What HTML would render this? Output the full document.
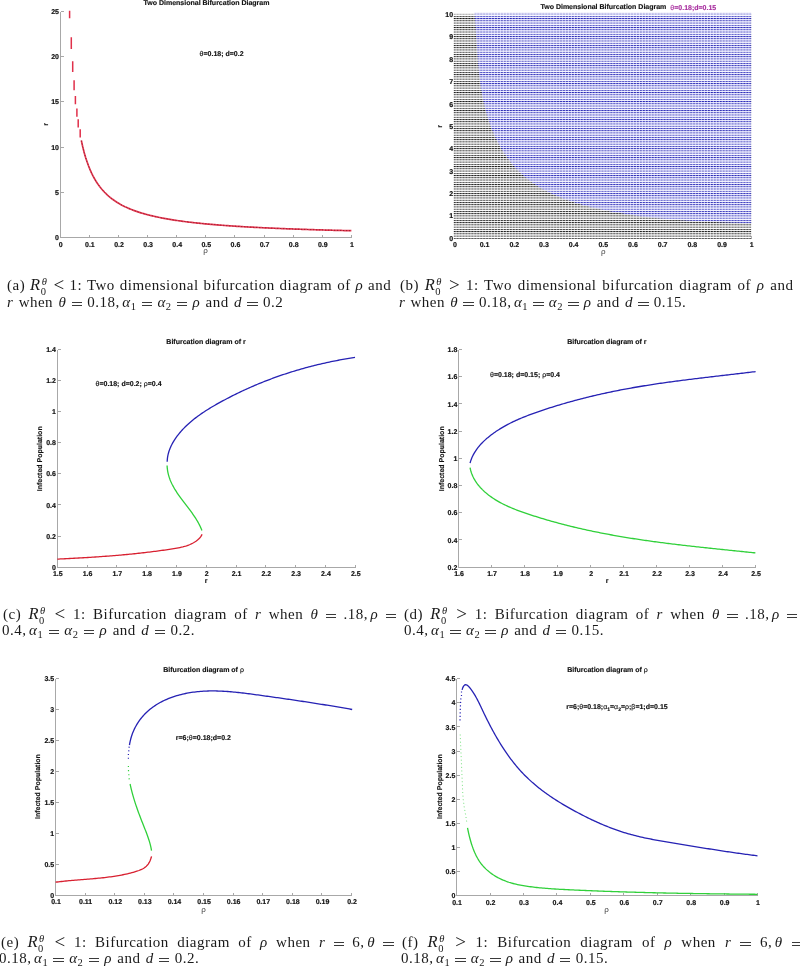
<!DOCTYPE html>
<html><head><meta charset="utf-8"><style>
html,body{margin:0;padding:0;background:#fff;-webkit-font-smoothing:antialiased;}
body{width:800px;height:967px;position:relative;overflow:hidden;}
svg{position:absolute;left:0;top:0;will-change:transform;}
.cl{will-change:transform;}
.tl{font-family:"Liberation Sans",sans-serif;font-weight:bold;font-size:7px;fill:#111;stroke:#111;stroke-width:0.18px;text-rendering:geometricPrecision;}
.tt{font-family:"Liberation Sans",sans-serif;font-weight:bold;font-size:7px;fill:#111;stroke:#111;stroke-width:0.15px;text-rendering:geometricPrecision;}
.al{font-family:"Liberation Sans",sans-serif;font-size:8px;fill:#444;}
.cv{stroke-width:1.3;stroke-linejoin:round;}
.g{font-family:"Liberation Sans",sans-serif;font-weight:normal;}
.cl{position:absolute;font-family:"Liberation Serif",serif;font-size:15.0px;line-height:16px;white-space:nowrap;color:#1a1a1a;letter-spacing:0.5px;}
.cl.j{text-align:justify;text-align-last:justify;white-space:normal;}
.cl i{font-style:italic;}
.cl sub{font-size:10.5px;vertical-align:baseline;position:relative;top:3px;}
.sx{display:inline-block;position:relative;width:8px;height:10px;}
.sp{position:absolute;left:1px;top:-6px;font-size:10.5px;}
.sb{position:absolute;left:0px;top:4px;font-size:10.5px;}
.R{font-size:16.5px;}
.lt{font-size:19px;line-height:10px;position:relative;top:0.8px;}
.th{display:inline-block;width:2.5px;}
.eq{display:inline-block;width:10.4px;height:2.3px;border-top:1px solid #3a3a3a;border-bottom:1px solid #3a3a3a;vertical-align:0.9px;}
</style></head><body>
<svg width="800" height="967" viewBox="0 0 800 967">
<path d="M60.5,11.5 L60.5,237.5 L352.0,237.5 M89.5,237.5 L89.5,234.5 M118.5,237.5 L118.5,234.5 M147.5,237.5 L147.5,234.5 M176.5,237.5 L176.5,234.5 M205.5,237.5 L205.5,234.5 M234.5,237.5 L234.5,234.5 M264.5,237.5 L264.5,234.5 M293.5,237.5 L293.5,234.5 M322.5,237.5 L322.5,234.5 M351.5,237.5 L351.5,234.5 M60.5,192.5 L63.5,192.5 M60.5,147.5 L63.5,147.5 M60.5,101.5 L63.5,101.5 M60.5,56.5 L63.5,56.5 M60.5,11.5 L63.5,11.5" fill="none" stroke="#a8a8a8" stroke-width="1" shape-rendering="crispEdges"/>
<text x="60.80" y="246.70" text-anchor="middle" class="tl">0</text>
<text x="89.91" y="246.70" text-anchor="middle" class="tl">0.1</text>
<text x="119.02" y="246.70" text-anchor="middle" class="tl">0.2</text>
<text x="148.13" y="246.70" text-anchor="middle" class="tl">0.3</text>
<text x="177.24" y="246.70" text-anchor="middle" class="tl">0.4</text>
<text x="206.35" y="246.70" text-anchor="middle" class="tl">0.5</text>
<text x="235.46" y="246.70" text-anchor="middle" class="tl">0.6</text>
<text x="264.57" y="246.70" text-anchor="middle" class="tl">0.7</text>
<text x="293.68" y="246.70" text-anchor="middle" class="tl">0.8</text>
<text x="322.79" y="246.70" text-anchor="middle" class="tl">0.9</text>
<text x="351.90" y="246.70" text-anchor="middle" class="tl">1</text>
<text x="59.00" y="240.10" text-anchor="end" class="tl">0</text>
<text x="59.00" y="194.85" text-anchor="end" class="tl">5</text>
<text x="59.00" y="149.60" text-anchor="end" class="tl">10</text>
<text x="59.00" y="104.35" text-anchor="end" class="tl">15</text>
<text x="59.00" y="59.10" text-anchor="end" class="tl">20</text>
<text x="59.00" y="13.85" text-anchor="end" class="tl">25</text>
<path d="M81.33,140.54 L82.78,147.00 L84.23,152.66 L85.68,157.65 L87.14,162.08 L88.59,166.05 L90.04,169.62 L91.49,172.86 L92.94,175.80 L94.40,178.48 L95.85,180.94 L97.30,183.20 L98.75,185.29 L100.20,187.22 L101.66,189.02 L103.11,190.69 L104.56,192.25 L106.01,193.71 L107.46,195.08 L108.92,196.36 L110.37,197.57 L111.82,198.71 L113.27,199.79 L114.72,200.81 L116.18,201.78 L117.63,202.69 L119.08,203.56 L120.53,204.39 L121.98,205.18 L123.44,205.93 L124.89,206.65 L126.34,207.33 L127.79,207.99 L129.24,208.62 L130.70,209.22 L132.15,209.80 L133.60,210.35 L135.05,210.88 L136.50,211.39 L137.96,211.89 L139.41,212.36 L140.86,212.82 L142.31,213.26 L143.76,213.68 L145.22,214.09 L146.67,214.49 L148.12,214.88 L149.57,215.25 L151.02,215.60 L152.48,215.95 L153.93,216.29 L155.38,216.62 L156.83,216.93 L158.28,217.24 L159.74,217.54 L161.19,217.83 L162.64,218.11 L164.09,218.38 L165.54,218.65 L167.00,218.90 L168.45,219.16 L169.90,219.40 L171.35,219.64 L172.80,219.87 L174.26,220.10 L175.71,220.32 L177.16,220.53 L178.61,220.74 L180.06,220.95 L181.52,221.14 L182.97,221.34 L184.42,221.53 L185.87,221.72 L187.32,221.90 L188.78,222.07 L190.23,222.25 L191.68,222.42 L193.13,222.58 L194.58,222.74 L196.04,222.90 L197.49,223.06 L198.94,223.21 L200.39,223.36 L201.84,223.51 L203.30,223.65 L204.75,223.79 L206.20,223.93 L207.65,224.06 L209.10,224.19 L210.56,224.32 L212.01,224.45 L213.46,224.57 L214.91,224.69 L216.36,224.81 L217.82,224.93 L219.27,225.05 L220.72,225.16 L222.17,225.27 L223.62,225.38 L225.08,225.49 L226.53,225.59 L227.98,225.70 L229.43,225.80 L230.88,225.90 L232.34,226.00 L233.79,226.09 L235.24,226.19 L236.69,226.28 L238.14,226.37 L239.60,226.46 L241.05,226.55 L242.50,226.64 L243.95,226.73 L245.40,226.81 L246.86,226.89 L248.31,226.98 L249.76,227.06 L251.21,227.14 L252.66,227.22 L254.12,227.29 L255.57,227.37 L257.02,227.44 L258.47,227.52 L259.92,227.59 L261.38,227.66 L262.83,227.73 L264.28,227.80 L265.73,227.87 L267.18,227.94 L268.64,228.01 L270.09,228.07 L271.54,228.14 L272.99,228.20 L274.44,228.27 L275.90,228.33 L277.35,228.39 L278.80,228.45 L280.25,228.51 L281.70,228.57 L283.16,228.63 L284.61,228.69 L286.06,228.74 L287.51,228.80 L288.96,228.85 L290.42,228.91 L291.87,228.96 L293.32,229.02 L294.77,229.07 L296.22,229.12 L297.68,229.17 L299.13,229.22 L300.58,229.27 L302.03,229.32 L303.48,229.37 L304.94,229.42 L306.39,229.47 L307.84,229.51 L309.29,229.56 L310.74,229.61 L312.20,229.65 L313.65,229.70 L315.10,229.74 L316.55,229.79 L318.00,229.83 L319.46,229.87 L320.91,229.92 L322.36,229.96 L323.81,230.00 L325.26,230.04 L326.72,230.08 L328.17,230.12 L329.62,230.16 L331.07,230.20 L332.52,230.24 L333.98,230.28 L335.43,230.32 L336.88,230.36 L338.33,230.39 L339.78,230.43 L341.24,230.47 L342.69,230.50 L344.14,230.54 L345.59,230.57 L347.04,230.61 L348.50,230.64 L349.95,230.68 L351.40,230.71" fill="none" stroke="#e23a52" stroke-width="1.7"/>
<path d="M81.33,140.54 L82.78,147.00 L84.23,152.66 L85.68,157.65 L87.14,162.08 L88.59,166.05 L90.04,169.62 L91.49,172.86 L92.94,175.80 L94.40,178.48 L95.85,180.94 L97.30,183.20 L98.75,185.29 L100.20,187.22 L101.66,189.02 L103.11,190.69 L104.56,192.25 L106.01,193.71 L107.46,195.08 L108.92,196.36 L110.37,197.57 L111.82,198.71 L113.27,199.79 L114.72,200.81 L116.18,201.78 L117.63,202.69 L119.08,203.56 L120.53,204.39 L121.98,205.18 L123.44,205.93 L124.89,206.65 L126.34,207.33 L127.79,207.99 L129.24,208.62 L130.70,209.22 L132.15,209.80 L133.60,210.35 L135.05,210.88 L136.50,211.39 L137.96,211.89 L139.41,212.36 L140.86,212.82 L142.31,213.26 L143.76,213.68 L145.22,214.09 L146.67,214.49 L148.12,214.88 L149.57,215.25 L151.02,215.60 L152.48,215.95 L153.93,216.29 L155.38,216.62 L156.83,216.93 L158.28,217.24 L159.74,217.54 L161.19,217.83 L162.64,218.11 L164.09,218.38 L165.54,218.65 L167.00,218.90 L168.45,219.16 L169.90,219.40 L171.35,219.64 L172.80,219.87 L174.26,220.10 L175.71,220.32 L177.16,220.53 L178.61,220.74 L180.06,220.95 L181.52,221.14 L182.97,221.34 L184.42,221.53 L185.87,221.72 L187.32,221.90 L188.78,222.07 L190.23,222.25 L191.68,222.42 L193.13,222.58 L194.58,222.74 L196.04,222.90 L197.49,223.06 L198.94,223.21 L200.39,223.36 L201.84,223.51 L203.30,223.65 L204.75,223.79 L206.20,223.93 L207.65,224.06 L209.10,224.19 L210.56,224.32 L212.01,224.45 L213.46,224.57 L214.91,224.69 L216.36,224.81 L217.82,224.93 L219.27,225.05 L220.72,225.16 L222.17,225.27 L223.62,225.38 L225.08,225.49 L226.53,225.59 L227.98,225.70 L229.43,225.80 L230.88,225.90 L232.34,226.00 L233.79,226.09 L235.24,226.19 L236.69,226.28 L238.14,226.37 L239.60,226.46 L241.05,226.55 L242.50,226.64 L243.95,226.73 L245.40,226.81 L246.86,226.89 L248.31,226.98 L249.76,227.06 L251.21,227.14 L252.66,227.22 L254.12,227.29 L255.57,227.37 L257.02,227.44 L258.47,227.52 L259.92,227.59 L261.38,227.66 L262.83,227.73 L264.28,227.80 L265.73,227.87 L267.18,227.94 L268.64,228.01 L270.09,228.07 L271.54,228.14 L272.99,228.20 L274.44,228.27 L275.90,228.33 L277.35,228.39 L278.80,228.45 L280.25,228.51 L281.70,228.57 L283.16,228.63 L284.61,228.69 L286.06,228.74 L287.51,228.80 L288.96,228.85 L290.42,228.91 L291.87,228.96 L293.32,229.02 L294.77,229.07 L296.22,229.12 L297.68,229.17 L299.13,229.22 L300.58,229.27 L302.03,229.32 L303.48,229.37 L304.94,229.42 L306.39,229.47 L307.84,229.51 L309.29,229.56 L310.74,229.61 L312.20,229.65 L313.65,229.70 L315.10,229.74 L316.55,229.79 L318.00,229.83 L319.46,229.87 L320.91,229.92 L322.36,229.96 L323.81,230.00 L325.26,230.04 L326.72,230.08 L328.17,230.12 L329.62,230.16 L331.07,230.20 L332.52,230.24 L333.98,230.28 L335.43,230.32 L336.88,230.36 L338.33,230.39 L339.78,230.43 L341.24,230.47 L342.69,230.50 L344.14,230.54 L345.59,230.57 L347.04,230.61 L348.50,230.64 L349.95,230.68 L351.40,230.71" fill="none" stroke="#8a1020" stroke-width="1.0" stroke-dasharray="1.2 1.8" opacity="0.75"/>
<path d="M69.6,10.8 L69.6,18.2 M71.3,37.3 L71.3,48.9 M72.7,61.3 L72.7,72.1 M74.1,80.3 L74.1,90.3 M75.4,96 L75.4,104.3 M76.9,108.5 L76.9,116.8 M78.2,119.2 L78.2,127.5 M80.2,129.2 L80.2,137.4" stroke="#e0304a" stroke-width="1.5"/>
<text x="206.5" y="5.2" text-anchor="middle" class="tt">Two Dimensional Bifurcation Diagram</text>
<text x="199.6" y="55.9" class="tt"><tspan class="g">θ</tspan>=0.18; d=0.2</text>
<text x="205.5" y="253" text-anchor="middle" class="al">ρ</text>
<text transform="translate(48,124.4) rotate(-90)" text-anchor="middle" class="tt">r</text>
<defs>
<pattern id="pk" patternUnits="userSpaceOnUse" x="453.70" y="13.65" width="2.9570" height="2.2425"><rect width="2.9570" height="2.2425" fill="#ffffff"/><rect x="0" y="0" width="2.9570" height="0.85" fill="#9c9c9c"/><rect x="0" y="0" width="1.8" height="0.85" fill="#101010"/></pattern>
<pattern id="pb" patternUnits="userSpaceOnUse" x="453.70" y="13.65" width="2.9570" height="2.2425"><rect width="2.9570" height="2.2425" fill="#f8f8ff"/><rect x="0" y="0" width="2.9570" height="0.85" fill="#a0a0fc"/><rect x="0" y="0" width="1.8" height="0.85" fill="#2424a8"/></pattern>
</defs>
<path d="M454.5,14.5 L454.5,238.5 L752.0,238.5 M484.5,238.5 L484.5,235.5 M513.5,238.5 L513.5,235.5 M543.5,238.5 L543.5,235.5 M573.5,238.5 L573.5,235.5 M602.5,238.5 L602.5,235.5 M632.5,238.5 L632.5,235.5 M662.5,238.5 L662.5,235.5 M691.5,238.5 L691.5,235.5 M721.5,238.5 L721.5,235.5 M751.5,238.5 L751.5,235.5 M454.5,215.5 L457.5,215.5 M454.5,193.5 L457.5,193.5 M454.5,171.5 L457.5,171.5 M454.5,148.5 L457.5,148.5 M454.5,126.5 L457.5,126.5 M454.5,103.5 L457.5,103.5 M454.5,81.5 L457.5,81.5 M454.5,59.5 L457.5,59.5 M454.5,36.5 L457.5,36.5 M454.5,14.5 L457.5,14.5" fill="none" stroke="#a8a8a8" stroke-width="1" shape-rendering="crispEdges"/>
<text x="454.90" y="247.30" text-anchor="middle" class="tl">0</text>
<text x="484.58" y="247.30" text-anchor="middle" class="tl">0.1</text>
<text x="514.26" y="247.30" text-anchor="middle" class="tl">0.2</text>
<text x="543.94" y="247.30" text-anchor="middle" class="tl">0.3</text>
<text x="573.62" y="247.30" text-anchor="middle" class="tl">0.4</text>
<text x="603.30" y="247.30" text-anchor="middle" class="tl">0.5</text>
<text x="632.98" y="247.30" text-anchor="middle" class="tl">0.6</text>
<text x="662.66" y="247.30" text-anchor="middle" class="tl">0.7</text>
<text x="692.34" y="247.30" text-anchor="middle" class="tl">0.8</text>
<text x="722.02" y="247.30" text-anchor="middle" class="tl">0.9</text>
<text x="751.70" y="247.30" text-anchor="middle" class="tl">1</text>
<text x="453.10" y="240.70" text-anchor="end" class="tl">0</text>
<text x="453.10" y="218.34" text-anchor="end" class="tl">1</text>
<text x="453.10" y="195.98" text-anchor="end" class="tl">2</text>
<text x="453.10" y="173.62" text-anchor="end" class="tl">3</text>
<text x="453.10" y="151.26" text-anchor="end" class="tl">4</text>
<text x="453.10" y="128.90" text-anchor="end" class="tl">5</text>
<text x="453.10" y="106.54" text-anchor="end" class="tl">6</text>
<text x="453.10" y="84.18" text-anchor="end" class="tl">7</text>
<text x="453.10" y="61.82" text-anchor="end" class="tl">8</text>
<text x="453.10" y="39.46" text-anchor="end" class="tl">9</text>
<text x="453.10" y="17.10" text-anchor="end" class="tl">10</text>
<rect x="453.70" y="13.65" width="297.50" height="225.25" fill="url(#pk)"/>
<path d="M474.28,12.65 L474.28,12.02 L474.42,13.43 L474.55,14.85 L474.68,16.27 L474.81,17.70 L474.93,19.14 L475.05,20.58 L475.17,22.03 L475.28,23.48 L475.39,24.94 L475.50,26.40 L475.61,27.88 L475.71,29.35 L475.81,30.83 L475.91,32.32 L476.01,33.81 L476.11,35.30 L476.21,36.80 L476.30,38.30 L476.40,39.81 L476.50,41.32 L476.59,42.83 L476.69,44.35 L476.79,45.87 L476.89,47.39 L476.99,48.92 L477.10,50.45 L477.20,51.98 L477.31,53.51 L477.42,55.05 L477.54,56.58 L477.65,58.12 L477.77,59.66 L477.90,61.20 L478.02,62.74 L478.16,64.28 L478.29,65.83 L478.44,67.37 L478.58,68.91 L478.74,70.46 L478.89,72.00 L479.06,73.54 L479.23,75.09 L479.41,76.63 L479.59,78.17 L479.78,79.71 L479.98,81.25 L480.18,82.79 L480.40,84.32 L480.62,85.86 L480.85,87.39 L481.09,88.92 L481.34,90.44 L481.59,91.97 L481.86,93.49 L482.14,95.01 L482.42,96.53 L482.72,98.04 L483.03,99.55 L483.34,101.05 L483.67,102.55 L484.01,104.05 L484.37,105.54 L484.73,107.03 L485.11,108.52 L485.50,109.99 L485.90,111.47 L486.31,112.94 L486.73,114.40 L487.17,115.86 L487.62,117.31 L488.08,118.76 L488.55,120.20 L489.03,121.63 L489.53,123.06 L490.04,124.47 L490.56,125.89 L491.10,127.29 L491.64,128.69 L492.20,130.08 L492.77,131.47 L493.36,132.84 L493.96,134.21 L494.57,135.57 L495.19,136.92 L495.83,138.26 L496.48,139.60 L497.14,140.92 L497.81,142.23 L498.50,143.54 L499.20,144.84 L499.92,146.12 L500.64,147.40 L501.39,148.67 L502.14,149.92 L502.91,151.17 L503.69,152.40 L504.48,153.63 L505.29,154.84 L506.11,156.04 L506.95,157.23 L507.80,158.41 L508.66,159.58 L509.54,160.73 L510.43,161.87 L511.34,163.00 L512.25,164.12 L513.19,165.22 L514.13,166.32 L515.10,167.39 L516.07,168.46 L517.06,169.51 L518.06,170.55 L519.08,171.57 L520.12,172.58 L521.16,173.58 L522.22,174.56 L523.30,175.52 L524.39,176.48 L525.50,177.41 L526.62,178.33 L527.75,179.24 L528.90,180.13 L530.06,181.00 L531.24,181.87 L532.43,182.71 L533.64,183.54 L534.86,184.36 L536.09,185.16 L537.33,185.95 L538.58,186.72 L539.85,187.48 L541.13,188.23 L542.42,188.96 L543.72,189.68 L545.04,190.39 L546.36,191.09 L547.69,191.77 L549.04,192.44 L550.39,193.09 L551.75,193.74 L553.12,194.37 L554.50,194.99 L555.89,195.60 L557.29,196.20 L558.70,196.78 L560.11,197.36 L561.53,197.92 L562.96,198.47 L564.40,199.01 L565.84,199.55 L567.29,200.07 L568.74,200.58 L570.20,201.08 L571.67,201.57 L573.14,202.05 L574.61,202.52 L576.09,202.99 L577.58,203.44 L579.07,203.88 L580.56,204.32 L582.06,204.75 L583.56,205.16 L585.06,205.57 L586.57,205.98 L588.08,206.37 L589.59,206.76 L591.10,207.13 L592.61,207.50 L594.13,207.87 L595.64,208.22 L597.16,208.57 L598.68,208.92 L600.20,209.25 L601.71,209.58 L603.23,209.91 L604.75,210.22 L606.26,210.53 L607.78,210.84 L609.29,211.14 L610.80,211.43 L612.31,211.72 L613.82,212.00 L615.33,212.28 L616.84,212.56 L618.34,212.82 L619.85,213.08 L621.35,213.34 L622.85,213.59 L624.35,213.84 L625.85,214.08 L627.35,214.32 L628.85,214.55 L630.35,214.78 L631.84,215.00 L633.34,215.22 L634.83,215.44 L636.32,215.65 L637.81,215.85 L639.31,216.05 L640.80,216.25 L642.29,216.44 L643.78,216.63 L645.26,216.81 L646.75,216.99 L648.24,217.17 L649.73,217.34 L651.21,217.51 L652.70,217.67 L654.19,217.83 L655.67,217.99 L657.16,218.14 L658.64,218.29 L660.12,218.44 L661.61,218.58 L663.09,218.72 L664.58,218.86 L666.06,218.99 L667.54,219.12 L669.03,219.25 L670.51,219.38 L671.99,219.50 L673.47,219.61 L674.96,219.73 L676.44,219.84 L677.92,219.95 L679.41,220.06 L680.89,220.16 L682.38,220.27 L683.86,220.37 L685.34,220.46 L686.83,220.56 L688.31,220.65 L689.80,220.74 L691.29,220.83 L692.77,220.92 L694.26,221.00 L695.75,221.09 L697.23,221.17 L698.72,221.25 L700.21,221.32 L701.70,221.40 L703.19,221.47 L704.68,221.54 L706.18,221.62 L707.67,221.68 L709.16,221.75 L710.66,221.82 L712.15,221.89 L713.65,221.95 L715.15,222.01 L716.65,222.08 L718.15,222.14 L719.65,222.20 L721.15,222.26 L722.65,222.32 L724.15,222.37 L725.66,222.43 L727.17,222.49 L728.67,222.54 L730.18,222.60 L731.69,222.65 L733.21,222.71 L734.72,222.76 L736.23,222.82 L737.75,222.87 L739.27,222.93 L740.79,222.98 L742.31,223.04 L743.83,223.09 L745.35,223.14 L746.88,223.20 L748.41,223.25 L749.94,223.31 L751.47,223.37 L753.00,223.42 L751.20,223.42 L751.20,12.65 Z" fill="url(#pb)"/>
<rect x="453.70" y="13.65" width="297.50" height="1.0" fill="#fff" opacity="0.55"/>
<text x="603.4" y="8.5" text-anchor="middle" class="tt">Two Dimensional Bifurcation Diagram</text>
<text x="670.3" y="9.8" class="tt" style="fill:#a8309f;stroke:#a8309f"><tspan class="g">θ</tspan>=0.18;d=0.15</text>
<text x="603.2" y="254" text-anchor="middle" class="al">ρ</text>
<text transform="translate(441.5,126.4) rotate(-90)" text-anchor="middle" class="tt">r</text>
<path d="M57.5,349.5 L57.5,567.5 L356.0,567.5 M87.5,567.5 L87.5,564.5 M116.5,567.5 L116.5,564.5 M146.5,567.5 L146.5,564.5 M176.5,567.5 L176.5,564.5 M206.5,567.5 L206.5,564.5 M236.5,567.5 L236.5,564.5 M265.5,567.5 L265.5,564.5 M295.5,567.5 L295.5,564.5 M325.5,567.5 L325.5,564.5 M355.5,567.5 L355.5,564.5 M57.5,536.5 L60.5,536.5 M57.5,504.5 L60.5,504.5 M57.5,473.5 L60.5,473.5 M57.5,442.5 L60.5,442.5 M57.5,411.5 L60.5,411.5 M57.5,380.5 L60.5,380.5 M57.5,349.5 L60.5,349.5" fill="none" stroke="#a8a8a8" stroke-width="1" shape-rendering="crispEdges"/>
<text x="57.75" y="576.30" text-anchor="middle" class="tl">1.5</text>
<text x="87.55" y="576.30" text-anchor="middle" class="tl">1.6</text>
<text x="117.35" y="576.30" text-anchor="middle" class="tl">1.7</text>
<text x="147.15" y="576.30" text-anchor="middle" class="tl">1.8</text>
<text x="176.95" y="576.30" text-anchor="middle" class="tl">1.9</text>
<text x="206.75" y="576.30" text-anchor="middle" class="tl">2</text>
<text x="236.55" y="576.30" text-anchor="middle" class="tl">2.1</text>
<text x="266.35" y="576.30" text-anchor="middle" class="tl">2.2</text>
<text x="296.15" y="576.30" text-anchor="middle" class="tl">2.3</text>
<text x="325.95" y="576.30" text-anchor="middle" class="tl">2.4</text>
<text x="355.75" y="576.30" text-anchor="middle" class="tl">2.5</text>
<text x="55.95" y="569.70" text-anchor="end" class="tl">0</text>
<text x="55.95" y="538.62" text-anchor="end" class="tl">0.2</text>
<text x="55.95" y="507.54" text-anchor="end" class="tl">0.4</text>
<text x="55.95" y="476.46" text-anchor="end" class="tl">0.6</text>
<text x="55.95" y="445.38" text-anchor="end" class="tl">0.8</text>
<text x="55.95" y="414.30" text-anchor="end" class="tl">1</text>
<text x="55.95" y="383.22" text-anchor="end" class="tl">1.2</text>
<text x="55.95" y="352.14" text-anchor="end" class="tl">1.4</text>
<path d="M57.30,559.10 L58.83,559.03 L60.37,558.95 L61.90,558.88 L63.43,558.80 L64.96,558.73 L66.49,558.65 L68.01,558.57 L69.54,558.50 L71.06,558.42 L72.58,558.34 L74.11,558.26 L75.62,558.17 L77.14,558.09 L78.66,558.01 L80.17,557.92 L81.69,557.84 L83.20,557.75 L84.71,557.66 L86.23,557.57 L87.74,557.48 L89.24,557.38 L90.75,557.29 L92.26,557.19 L93.77,557.09 L95.27,557.00 L96.78,556.89 L98.29,556.79 L99.79,556.69 L101.29,556.58 L102.80,556.47 L104.30,556.37 L105.80,556.25 L107.31,556.14 L108.81,556.03 L110.31,555.91 L111.81,555.79 L113.31,555.67 L114.81,555.55 L116.32,555.42 L117.82,555.29 L119.32,555.16 L120.82,555.03 L122.32,554.90 L123.82,554.76 L125.33,554.62 L126.83,554.48 L128.33,554.34 L129.84,554.19 L131.34,554.04 L132.85,553.89 L134.35,553.74 L135.86,553.58 L137.36,553.42 L138.87,553.26 L140.38,553.09 L141.89,552.92 L143.40,552.75 L144.91,552.58 L146.42,552.40 L147.93,552.22 L149.44,552.04 L150.96,551.86 L152.47,551.67 L153.99,551.48 L155.51,551.28 L157.03,551.08 L158.55,550.88 L160.07,550.68 L161.59,550.47 L163.12,550.26 L164.64,550.04 L166.17,549.83 L167.70,549.61 L169.23,549.38 L170.77,549.15 L172.30,548.92 L173.83,548.68 L175.36,548.42 L176.89,548.15 L178.40,547.87 L179.91,547.56 L181.40,547.22 L182.88,546.86 L184.34,546.47 L185.78,546.04 L187.20,545.57 L188.59,545.06 L189.97,544.51 L191.31,543.90 L192.62,543.25 L193.90,542.54 L195.14,541.77 L196.35,540.94 L197.52,540.04 L198.64,539.08 L199.69,538.03 L200.62,536.90 L201.42,535.67 L202.03,534.32" fill="none" stroke="#d82030" class="cv"/>
<path d="M201.90,530.49 L201.34,529.06 L200.74,527.64 L200.10,526.24 L199.42,524.86 L198.71,523.50 L197.96,522.14 L197.19,520.80 L196.39,519.48 L195.56,518.16 L194.71,516.86 L193.84,515.56 L192.95,514.27 L192.04,512.99 L191.12,511.72 L190.19,510.45 L189.24,509.19 L188.29,507.93 L187.33,506.68 L186.37,505.42 L185.41,504.17 L184.45,502.92 L183.49,501.66 L182.54,500.41 L181.60,499.15 L180.67,497.88 L179.75,496.61 L178.84,495.34 L177.95,494.06 L177.08,492.77 L176.23,491.47 L175.40,490.16 L174.60,488.85 L173.83,487.51 L173.09,486.17 L172.38,484.82 L171.70,483.44 L171.06,482.06 L170.46,480.65 L169.90,479.23 L169.39,477.79 L168.92,476.33 L168.49,474.85 L168.12,473.35 L167.80,471.83 L167.54,470.28 L167.33,468.71 L167.18,467.12 L167.09,465.49" fill="none" stroke="#30d03a" class="cv"/>
<path d="M167.18,461.78 L167.25,460.21 L167.39,458.67 L167.59,457.15 L167.86,455.66 L168.18,454.19 L168.56,452.74 L168.99,451.31 L169.47,449.90 L170.00,448.51 L170.58,447.15 L171.20,445.80 L171.86,444.47 L172.56,443.17 L173.30,441.88 L174.07,440.61 L174.87,439.36 L175.70,438.13 L176.56,436.92 L177.45,435.73 L178.36,434.55 L179.29,433.39 L180.24,432.25 L181.21,431.13 L182.21,430.02 L183.23,428.93 L184.27,427.85 L185.32,426.79 L186.40,425.74 L187.49,424.71 L188.60,423.70 L189.73,422.69 L190.88,421.71 L192.04,420.73 L193.21,419.77 L194.40,418.82 L195.61,417.89 L196.83,416.97 L198.06,416.06 L199.30,415.16 L200.56,414.27 L201.82,413.40 L203.10,412.53 L204.39,411.68 L205.68,410.83 L206.99,410.00 L208.30,409.18 L209.62,408.36 L210.94,407.56 L212.28,406.76 L213.62,405.98 L214.96,405.20 L216.31,404.42 L217.66,403.66 L219.01,402.91 L220.37,402.16 L221.73,401.41 L223.09,400.68 L224.46,399.95 L225.82,399.23 L227.18,398.51 L228.55,397.80 L229.92,397.09 L231.29,396.39 L232.65,395.70 L234.03,395.02 L235.40,394.34 L236.77,393.66 L238.14,392.99 L239.52,392.33 L240.90,391.68 L242.27,391.03 L243.65,390.38 L245.04,389.75 L246.42,389.11 L247.80,388.49 L249.19,387.87 L250.57,387.25 L251.96,386.65 L253.35,386.04 L254.74,385.45 L256.13,384.86 L257.52,384.27 L258.92,383.69 L260.32,383.12 L261.71,382.55 L263.11,381.99 L264.51,381.44 L265.92,380.89 L267.32,380.34 L268.73,379.80 L270.13,379.27 L271.54,378.74 L272.95,378.22 L274.37,377.71 L275.78,377.20 L277.20,376.69 L278.61,376.19 L280.03,375.70 L281.45,375.21 L282.88,374.72 L284.30,374.25 L285.73,373.78 L287.15,373.31 L288.58,372.85 L290.01,372.39 L291.45,371.94 L292.88,371.50 L294.32,371.06 L295.76,370.62 L297.20,370.19 L298.64,369.77 L300.09,369.35 L301.53,368.93 L302.98,368.53 L304.43,368.12 L305.88,367.73 L307.34,367.33 L308.79,366.95 L310.25,366.56 L311.71,366.19 L313.17,365.81 L314.64,365.45 L316.10,365.08 L317.57,364.73 L319.04,364.37 L320.52,364.03 L321.99,363.68 L323.47,363.35 L324.95,363.01 L326.43,362.69 L327.91,362.36 L329.40,362.05 L330.89,361.73 L332.38,361.43 L333.87,361.12 L335.36,360.82 L336.86,360.53 L338.36,360.24 L339.86,359.96 L341.37,359.68 L342.87,359.40 L344.38,359.13 L345.89,358.87 L347.41,358.61 L348.92,358.35 L350.44,358.10 L351.96,357.85 L353.48,357.61 L355.01,357.37" fill="none" stroke="#2622b4" class="cv"/>
<text x="206" y="344.2" text-anchor="middle" class="tt">Bifurcation diagram of r</text>
<text x="95.5" y="385.7" class="tt"><tspan class="g">θ</tspan>=0.18; d=0.2; <tspan class="g">ρ</tspan>=0.4</text>
<text x="206.2" y="583" text-anchor="middle" class="tt">r</text>
<text transform="translate(42.4,458.8) rotate(-90)" text-anchor="middle" class="tt">Infected Population</text>
<path d="M458.5,349.5 L458.5,567.5 L756.0,567.5 M491.5,567.5 L491.5,564.5 M524.5,567.5 L524.5,564.5 M557.5,567.5 L557.5,564.5 M590.5,567.5 L590.5,564.5 M623.5,567.5 L623.5,564.5 M656.5,567.5 L656.5,564.5 M689.5,567.5 L689.5,564.5 M722.5,567.5 L722.5,564.5 M755.5,567.5 L755.5,564.5 M458.5,539.5 L461.5,539.5 M458.5,512.5 L461.5,512.5 M458.5,485.5 L461.5,485.5 M458.5,458.5 L461.5,458.5 M458.5,431.5 L461.5,431.5 M458.5,403.5 L461.5,403.5 M458.5,376.5 L461.5,376.5 M458.5,349.5 L461.5,349.5" fill="none" stroke="#a8a8a8" stroke-width="1" shape-rendering="crispEdges"/>
<text x="459.10" y="576.30" text-anchor="middle" class="tl">1.6</text>
<text x="492.10" y="576.30" text-anchor="middle" class="tl">1.7</text>
<text x="525.10" y="576.30" text-anchor="middle" class="tl">1.8</text>
<text x="558.10" y="576.30" text-anchor="middle" class="tl">1.9</text>
<text x="591.10" y="576.30" text-anchor="middle" class="tl">2</text>
<text x="624.10" y="576.30" text-anchor="middle" class="tl">2.1</text>
<text x="657.10" y="576.30" text-anchor="middle" class="tl">2.2</text>
<text x="690.10" y="576.30" text-anchor="middle" class="tl">2.3</text>
<text x="723.10" y="576.30" text-anchor="middle" class="tl">2.4</text>
<text x="756.10" y="576.30" text-anchor="middle" class="tl">2.5</text>
<text x="457.30" y="569.70" text-anchor="end" class="tl">0.2</text>
<text x="457.30" y="542.50" text-anchor="end" class="tl">0.4</text>
<text x="457.30" y="515.30" text-anchor="end" class="tl">0.6</text>
<text x="457.30" y="488.10" text-anchor="end" class="tl">0.8</text>
<text x="457.30" y="460.90" text-anchor="end" class="tl">1</text>
<text x="457.30" y="433.70" text-anchor="end" class="tl">1.2</text>
<text x="457.30" y="406.50" text-anchor="end" class="tl">1.4</text>
<text x="457.30" y="379.30" text-anchor="end" class="tl">1.6</text>
<text x="457.30" y="352.10" text-anchor="end" class="tl">1.8</text>
<path d="M470.07,467.71 L470.40,469.26 L470.79,470.78 L471.24,472.26 L471.74,473.70 L472.30,475.12 L472.91,476.50 L473.56,477.84 L474.27,479.16 L475.02,480.44 L475.81,481.69 L476.64,482.91 L477.52,484.10 L478.42,485.26 L479.37,486.40 L480.34,487.50 L481.35,488.58 L482.38,489.63 L483.44,490.65 L484.52,491.65 L485.63,492.63 L486.75,493.58 L487.89,494.50 L489.06,495.40 L490.24,496.28 L491.44,497.14 L492.66,497.98 L493.89,498.79 L495.14,499.59 L496.40,500.36 L497.68,501.12 L498.97,501.86 L500.28,502.58 L501.60,503.28 L502.93,503.96 L504.28,504.63 L505.63,505.29 L507.00,505.93 L508.38,506.55 L509.76,507.16 L511.16,507.76 L512.56,508.35 L513.97,508.92 L515.39,509.48 L516.81,510.03 L518.24,510.57 L519.68,511.11 L521.12,511.63 L522.56,512.14 L524.01,512.65 L525.46,513.15 L526.91,513.64 L528.36,514.13 L529.82,514.61 L531.27,515.09 L532.73,515.56 L534.19,516.02 L535.64,516.49 L537.10,516.94 L538.56,517.40 L540.02,517.85 L541.48,518.29 L542.94,518.73 L544.40,519.17 L545.86,519.60 L547.32,520.02 L548.78,520.45 L550.24,520.86 L551.70,521.28 L553.16,521.69 L554.63,522.09 L556.09,522.49 L557.55,522.89 L559.02,523.28 L560.48,523.67 L561.95,524.06 L563.41,524.44 L564.88,524.82 L566.34,525.19 L567.81,525.56 L569.28,525.93 L570.74,526.29 L572.21,526.65 L573.68,527.00 L575.15,527.35 L576.61,527.70 L578.08,528.04 L579.55,528.38 L581.02,528.72 L582.49,529.05 L583.96,529.38 L585.44,529.70 L586.91,530.03 L588.38,530.34 L589.85,530.66 L591.32,530.97 L592.80,531.28 L594.27,531.59 L595.74,531.89 L597.22,532.19 L598.69,532.48 L600.17,532.78 L601.64,533.07 L603.12,533.35 L604.59,533.64 L606.07,533.92 L607.55,534.20 L609.02,534.47 L610.50,534.74 L611.98,535.01 L613.46,535.28 L614.94,535.54 L616.42,535.81 L617.90,536.06 L619.38,536.32 L620.86,536.57 L622.34,536.82 L623.82,537.07 L625.30,537.32 L626.78,537.56 L628.26,537.80 L629.74,538.04 L631.23,538.27 L632.71,538.51 L634.19,538.74 L635.68,538.97 L637.16,539.19 L638.64,539.42 L640.13,539.64 L641.61,539.86 L643.10,540.08 L644.59,540.29 L646.07,540.51 L647.56,540.72 L649.04,540.93 L650.53,541.14 L652.02,541.34 L653.51,541.55 L655.00,541.75 L656.48,541.95 L657.97,542.15 L659.46,542.34 L660.95,542.54 L662.44,542.73 L663.93,542.92 L665.42,543.11 L666.91,543.30 L668.40,543.49 L669.89,543.68 L671.39,543.86 L672.88,544.04 L674.37,544.22 L675.86,544.40 L677.36,544.58 L678.85,544.76 L680.34,544.94 L681.84,545.11 L683.33,545.29 L684.83,545.46 L686.32,545.63 L687.82,545.80 L689.31,545.97 L690.81,546.14 L692.30,546.31 L693.80,546.47 L695.30,546.64 L696.79,546.80 L698.29,546.97 L699.79,547.13 L701.29,547.29 L702.79,547.45 L704.28,547.61 L705.78,547.77 L707.28,547.93 L708.78,548.09 L710.28,548.25 L711.78,548.41 L713.28,548.57 L714.78,548.72 L716.28,548.88 L717.78,549.04 L719.29,549.19 L720.79,549.35 L722.29,549.50 L723.79,549.66 L725.29,549.81 L726.80,549.97 L728.30,550.12 L729.80,550.28 L731.31,550.43 L732.81,550.59 L734.32,550.74 L735.82,550.89 L737.33,551.05 L738.83,551.20 L740.34,551.36 L741.84,551.51 L743.35,551.67 L744.85,551.82 L746.36,551.98 L747.87,552.13 L749.37,552.29 L750.88,552.44 L752.39,552.60 L753.90,552.76 L755.40,552.92" fill="none" stroke="#30d03a" class="cv"/>
<path d="M470.04,463.08 L470.47,461.60 L470.95,460.15 L471.49,458.73 L472.07,457.34 L472.70,455.98 L473.38,454.65 L474.10,453.34 L474.87,452.06 L475.67,450.80 L476.51,449.58 L477.39,448.37 L478.31,447.20 L479.26,446.04 L480.23,444.91 L481.24,443.81 L482.28,442.72 L483.34,441.66 L484.42,440.62 L485.53,439.61 L486.66,438.61 L487.80,437.63 L488.97,436.67 L490.14,435.74 L491.33,434.82 L492.54,433.92 L493.75,433.03 L494.98,432.17 L496.22,431.32 L497.47,430.49 L498.73,429.68 L500.00,428.88 L501.28,428.10 L502.57,427.33 L503.87,426.58 L505.19,425.84 L506.51,425.12 L507.84,424.41 L509.17,423.72 L510.52,423.03 L511.88,422.36 L513.24,421.71 L514.61,421.06 L515.98,420.43 L517.37,419.81 L518.75,419.20 L520.15,418.60 L521.55,418.00 L522.96,417.42 L524.37,416.85 L525.78,416.29 L527.20,415.74 L528.63,415.19 L530.06,414.65 L531.49,414.12 L532.92,413.60 L534.36,413.08 L535.80,412.57 L537.24,412.07 L538.69,411.57 L540.13,411.08 L541.58,410.59 L543.03,410.10 L544.48,409.62 L545.92,409.15 L547.37,408.67 L548.83,408.21 L550.28,407.74 L551.73,407.28 L553.18,406.83 L554.64,406.38 L556.09,405.93 L557.54,405.49 L559.00,405.05 L560.46,404.61 L561.91,404.18 L563.37,403.75 L564.83,403.33 L566.29,402.91 L567.75,402.49 L569.21,402.08 L570.67,401.67 L572.13,401.27 L573.59,400.87 L575.06,400.47 L576.52,400.08 L577.98,399.69 L579.45,399.31 L580.91,398.92 L582.38,398.55 L583.85,398.17 L585.31,397.80 L586.78,397.44 L588.25,397.07 L589.72,396.71 L591.19,396.36 L592.66,396.00 L594.13,395.65 L595.60,395.31 L597.07,394.97 L598.54,394.63 L600.02,394.29 L601.49,393.96 L602.97,393.63 L604.44,393.31 L605.92,392.99 L607.39,392.67 L608.87,392.36 L610.34,392.04 L611.82,391.74 L613.30,391.43 L614.78,391.13 L616.26,390.83 L617.74,390.54 L619.22,390.25 L620.70,389.96 L622.18,389.67 L623.66,389.39 L625.14,389.11 L626.63,388.84 L628.11,388.56 L629.59,388.29 L631.08,388.03 L632.56,387.76 L634.05,387.50 L635.53,387.25 L637.02,386.99 L638.51,386.74 L639.99,386.49 L641.48,386.24 L642.97,386.00 L644.46,385.76 L645.95,385.52 L647.43,385.28 L648.92,385.04 L650.41,384.81 L651.91,384.58 L653.40,384.36 L654.89,384.13 L656.38,383.91 L657.87,383.69 L659.37,383.47 L660.86,383.25 L662.35,383.04 L663.85,382.82 L665.34,382.61 L666.84,382.40 L668.33,382.20 L669.83,381.99 L671.32,381.79 L672.82,381.59 L674.32,381.38 L675.81,381.19 L677.31,380.99 L678.81,380.79 L680.31,380.60 L681.81,380.40 L683.30,380.21 L684.80,380.02 L686.30,379.83 L687.80,379.64 L689.30,379.46 L690.80,379.27 L692.31,379.08 L693.81,378.90 L695.31,378.72 L696.81,378.53 L698.31,378.35 L699.82,378.17 L701.32,377.99 L702.82,377.81 L704.33,377.63 L705.83,377.46 L707.33,377.28 L708.84,377.10 L710.34,376.93 L711.85,376.75 L713.35,376.57 L714.86,376.40 L716.37,376.22 L717.87,376.05 L719.38,375.87 L720.89,375.70 L722.39,375.52 L723.90,375.35 L725.41,375.17 L726.92,375.00 L728.42,374.82 L729.93,374.65 L731.44,374.47 L732.95,374.30 L734.46,374.12 L735.97,373.94 L737.48,373.77 L738.99,373.59 L740.50,373.41 L742.01,373.23 L743.52,373.06 L745.03,372.88 L746.54,372.70 L748.05,372.51 L749.56,372.33 L751.07,372.15 L752.58,371.97 L754.09,371.78 L755.61,371.60" fill="none" stroke="#2622b4" class="cv"/>
<text x="606.9" y="344" text-anchor="middle" class="tt">Bifurcation diagram of r</text>
<text x="490" y="376.5" class="tt"><tspan class="g">θ</tspan>=0.18; d=0.15; <tspan class="g">ρ</tspan>=0.4</text>
<text x="607" y="583" text-anchor="middle" class="tt">r</text>
<text transform="translate(443.8,458.8) rotate(-90)" text-anchor="middle" class="tt">Infected Population</text>
<path d="M55.5,678.5 L55.5,895.5 L352.0,895.5 M85.5,895.5 L85.5,892.5 M114.5,895.5 L114.5,892.5 M144.5,895.5 L144.5,892.5 M173.5,895.5 L173.5,892.5 M203.5,895.5 L203.5,892.5 M233.5,895.5 L233.5,892.5 M262.5,895.5 L262.5,892.5 M292.5,895.5 L292.5,892.5 M321.5,895.5 L321.5,892.5 M351.5,895.5 L351.5,892.5 M55.5,864.5 L58.5,864.5 M55.5,833.5 L58.5,833.5 M55.5,802.5 L58.5,802.5 M55.5,771.5 L58.5,771.5 M55.5,740.5 L58.5,740.5 M55.5,709.5 L58.5,709.5 M55.5,678.5 L58.5,678.5" fill="none" stroke="#a8a8a8" stroke-width="1" shape-rendering="crispEdges"/>
<text x="56.00" y="904.45" text-anchor="middle" class="tl">0.1</text>
<text x="85.61" y="904.45" text-anchor="middle" class="tl">0.11</text>
<text x="115.22" y="904.45" text-anchor="middle" class="tl">0.12</text>
<text x="144.83" y="904.45" text-anchor="middle" class="tl">0.13</text>
<text x="174.44" y="904.45" text-anchor="middle" class="tl">0.14</text>
<text x="204.05" y="904.45" text-anchor="middle" class="tl">0.15</text>
<text x="233.66" y="904.45" text-anchor="middle" class="tl">0.16</text>
<text x="263.27" y="904.45" text-anchor="middle" class="tl">0.17</text>
<text x="292.88" y="904.45" text-anchor="middle" class="tl">0.18</text>
<text x="322.49" y="904.45" text-anchor="middle" class="tl">0.19</text>
<text x="352.10" y="904.45" text-anchor="middle" class="tl">0.2</text>
<text x="54.20" y="897.85" text-anchor="end" class="tl">0</text>
<text x="54.20" y="866.82" text-anchor="end" class="tl">0.5</text>
<text x="54.20" y="835.78" text-anchor="end" class="tl">1</text>
<text x="54.20" y="804.75" text-anchor="end" class="tl">1.5</text>
<text x="54.20" y="773.71" text-anchor="end" class="tl">2</text>
<text x="54.20" y="742.68" text-anchor="end" class="tl">2.5</text>
<text x="54.20" y="711.64" text-anchor="end" class="tl">3</text>
<text x="54.20" y="680.61" text-anchor="end" class="tl">3.5</text>
<path d="M55.61,882.20 L57.06,882.01 L58.52,881.83 L59.99,881.65 L61.47,881.48 L62.95,881.32 L64.44,881.16 L65.94,881.01 L67.45,880.86 L68.96,880.72 L70.48,880.58 L72.01,880.44 L73.54,880.31 L75.07,880.18 L76.61,880.06 L78.15,879.93 L79.70,879.80 L81.25,879.68 L82.80,879.56 L84.36,879.43 L85.92,879.31 L87.48,879.18 L89.04,879.05 L90.60,878.92 L92.16,878.79 L93.73,878.65 L95.29,878.51 L96.85,878.36 L98.42,878.21 L99.98,878.06 L101.54,877.89 L103.09,877.73 L104.65,877.55 L106.20,877.37 L107.75,877.18 L109.30,876.98 L110.84,876.77 L112.38,876.56 L113.91,876.33 L115.44,876.10 L116.96,875.85 L118.48,875.59 L119.99,875.32 L121.50,875.04 L123.00,874.74 L124.49,874.43 L125.97,874.11 L127.45,873.78 L128.92,873.42 L130.38,873.06 L131.83,872.68 L133.27,872.28 L134.70,871.86 L136.12,871.43 L137.53,870.98 L138.92,870.50 L140.28,869.97 L141.61,869.39 L142.90,868.73 L144.14,867.98 L145.31,867.13 L146.42,866.16 L147.45,865.07 L148.39,863.82 L149.24,862.43 L149.99,860.92 L150.62,859.36 L151.14,857.83 L151.53,856.39" fill="none" stroke="#d82030" class="cv"/>
<path d="M151.52,850.69 L151.27,849.17 L150.97,847.66 L150.64,846.15 L150.28,844.65 L149.88,843.15 L149.45,841.66 L149.00,840.18 L148.51,838.69 L148.01,837.22 L147.49,835.74 L146.95,834.27 L146.40,832.81 L145.84,831.34 L145.26,829.88 L144.69,828.42 L144.11,826.96 L143.53,825.51 L142.95,824.05 L142.38,822.60 L141.81,821.14 L141.24,819.69 L140.68,818.24 L140.13,816.78 L139.57,815.33 L139.03,813.87 L138.49,812.41 L137.96,810.95 L137.44,809.49 L136.92,808.03 L136.41,806.56 L135.91,805.09 L135.42,803.62 L134.94,802.14 L134.47,800.66 L134.01,799.17 L133.56,797.68 L133.13,796.19 L132.70,794.69 L132.29,793.18 L131.89,791.67 L131.51,790.15 L131.13,788.62 L130.78,787.09 L130.43,785.55 L130.10,784.00" fill="none" stroke="#30d03a" class="cv"/>
<path d="M129.47,745.04 L129.74,743.44 L130.05,741.86 L130.40,740.30 L130.79,738.77 L131.22,737.26 L131.69,735.77 L132.19,734.30 L132.73,732.85 L133.31,731.43 L133.93,730.03 L134.58,728.65 L135.26,727.29 L135.98,725.96 L136.73,724.66 L137.51,723.38 L138.32,722.12 L139.17,720.89 L140.04,719.68 L140.95,718.50 L141.88,717.35 L142.84,716.22 L143.83,715.12 L144.84,714.05 L145.88,713.00 L146.95,711.98 L148.04,710.98 L149.15,710.02 L150.29,709.08 L151.44,708.17 L152.62,707.29 L153.82,706.43 L155.04,705.60 L156.28,704.80 L157.54,704.02 L158.82,703.27 L160.11,702.54 L161.42,701.84 L162.75,701.16 L164.09,700.51 L165.45,699.88 L166.82,699.28 L168.20,698.70 L169.59,698.14 L171.00,697.61 L172.42,697.10 L173.85,696.61 L175.28,696.15 L176.73,695.70 L178.18,695.28 L179.64,694.88 L181.11,694.51 L182.58,694.15 L184.06,693.81 L185.55,693.50 L187.03,693.20 L188.52,692.92 L190.02,692.67 L191.51,692.43 L193.01,692.21 L194.50,692.02 L196.00,691.84 L197.50,691.67 L199.00,691.53 L200.50,691.40 L202.00,691.29 L203.50,691.19 L205.01,691.11 L206.51,691.05 L208.01,691.00 L209.52,690.96 L211.03,690.94 L212.54,690.93 L214.04,690.94 L215.55,690.96 L217.06,690.99 L218.57,691.03 L220.08,691.09 L221.59,691.15 L223.11,691.23 L224.62,691.32 L226.13,691.41 L227.65,691.52 L229.16,691.63 L230.67,691.76 L232.19,691.89 L233.71,692.03 L235.22,692.18 L236.74,692.33 L238.25,692.49 L239.77,692.66 L241.29,692.83 L242.80,693.01 L244.32,693.19 L245.84,693.38 L247.35,693.57 L248.87,693.76 L250.39,693.96 L251.91,694.16 L253.42,694.37 L254.94,694.57 L256.46,694.78 L257.98,694.98 L259.49,695.19 L261.01,695.40 L262.53,695.61 L264.05,695.82 L265.56,696.03 L267.08,696.24 L268.59,696.45 L270.11,696.66 L271.63,696.88 L273.14,697.09 L274.66,697.30 L276.17,697.52 L277.68,697.73 L279.20,697.95 L280.71,698.16 L282.22,698.38 L283.73,698.60 L285.24,698.81 L286.75,699.03 L288.26,699.25 L289.77,699.47 L291.28,699.69 L292.79,699.91 L294.30,700.14 L295.80,700.36 L297.31,700.58 L298.81,700.81 L300.32,701.03 L301.82,701.26 L303.32,701.49 L304.82,701.71 L306.32,701.94 L307.82,702.17 L309.32,702.40 L310.82,702.63 L312.31,702.86 L313.81,703.10 L315.30,703.33 L316.79,703.56 L318.28,703.80 L319.77,704.04 L321.26,704.27 L322.75,704.51 L324.23,704.75 L325.72,704.99 L327.20,705.23 L328.68,705.48 L330.16,705.72 L331.64,705.96 L333.12,706.21 L334.60,706.46 L336.07,706.70 L337.54,706.95 L339.02,707.20 L340.48,707.45 L341.95,707.71 L343.42,707.96 L344.88,708.21 L346.35,708.47 L347.81,708.72 L349.27,708.98 L350.72,709.24 L352.18,709.50" fill="none" stroke="#2622b4" class="cv"/>
<path d="M129.2,746.6 L128.8,750.6 L128.4,753.6 L128.4,758.9" stroke="#2622b4" fill="none" stroke-width="1.2" stroke-dasharray="1.1 2.6"/>
<path d="M128.4,766 L128.5,770.8 L128.8,774.3 L129.4,781" stroke="#30d03a" fill="none" stroke-width="1.2" stroke-dasharray="1.1 3"/>
<text x="203.6" y="671.7" text-anchor="middle" class="tt">Bifurcation diagram of <tspan class="g">ρ</tspan></text>
<text x="175.8" y="740" class="tt">r=6;<tspan class="g">θ</tspan>=0.18;d=0.2</text>
<text x="203.5" y="911.8" text-anchor="middle" class="al">ρ</text>
<text transform="translate(40.4,786.6) rotate(-90)" text-anchor="middle" class="tt">Infected Population</text>
<path d="M456.5,678.5 L456.5,895.5 L758.0,895.5 M490.5,895.5 L490.5,892.5 M523.5,895.5 L523.5,892.5 M556.5,895.5 L556.5,892.5 M590.5,895.5 L590.5,892.5 M623.5,895.5 L623.5,892.5 M657.5,895.5 L657.5,892.5 M690.5,895.5 L690.5,892.5 M724.5,895.5 L724.5,892.5 M757.5,895.5 L757.5,892.5 M456.5,871.5 L459.5,871.5 M456.5,847.5 L459.5,847.5 M456.5,823.5 L459.5,823.5 M456.5,799.5 L459.5,799.5 M456.5,775.5 L459.5,775.5 M456.5,751.5 L459.5,751.5 M456.5,726.5 L459.5,726.5 M456.5,702.5 L459.5,702.5 M456.5,678.5 L459.5,678.5" fill="none" stroke="#a8a8a8" stroke-width="1" shape-rendering="crispEdges"/>
<text x="457.10" y="904.65" text-anchor="middle" class="tl">0.1</text>
<text x="490.54" y="904.65" text-anchor="middle" class="tl">0.2</text>
<text x="523.98" y="904.65" text-anchor="middle" class="tl">0.3</text>
<text x="557.42" y="904.65" text-anchor="middle" class="tl">0.4</text>
<text x="590.86" y="904.65" text-anchor="middle" class="tl">0.5</text>
<text x="624.30" y="904.65" text-anchor="middle" class="tl">0.6</text>
<text x="657.74" y="904.65" text-anchor="middle" class="tl">0.7</text>
<text x="691.18" y="904.65" text-anchor="middle" class="tl">0.8</text>
<text x="724.62" y="904.65" text-anchor="middle" class="tl">0.9</text>
<text x="758.06" y="904.65" text-anchor="middle" class="tl">1</text>
<text x="455.30" y="898.05" text-anchor="end" class="tl">0</text>
<text x="455.30" y="873.98" text-anchor="end" class="tl">0.5</text>
<text x="455.30" y="849.90" text-anchor="end" class="tl">1</text>
<text x="455.30" y="825.83" text-anchor="end" class="tl">1.5</text>
<text x="455.30" y="801.75" text-anchor="end" class="tl">2</text>
<text x="455.30" y="777.68" text-anchor="end" class="tl">2.5</text>
<text x="455.30" y="753.60" text-anchor="end" class="tl">3</text>
<text x="455.30" y="729.53" text-anchor="end" class="tl">3.5</text>
<text x="455.30" y="705.45" text-anchor="end" class="tl">4</text>
<text x="455.30" y="681.38" text-anchor="end" class="tl">4.5</text>
<path d="M467.52,827.99 L467.82,829.44 L468.13,830.89 L468.45,832.36 L468.78,833.83 L469.13,835.31 L469.50,836.79 L469.88,838.28 L470.27,839.76 L470.69,841.25 L471.13,842.73 L471.58,844.20 L472.06,845.67 L472.57,847.13 L473.09,848.58 L473.65,850.02 L474.23,851.44 L474.83,852.85 L475.47,854.24 L476.14,855.61 L476.84,856.95 L477.57,858.28 L478.34,859.57 L479.14,860.85 L479.98,862.09 L480.85,863.30 L481.77,864.48 L482.72,865.62 L483.71,866.74 L484.73,867.82 L485.78,868.86 L486.87,869.88 L487.99,870.86 L489.14,871.81 L490.31,872.73 L491.51,873.62 L492.74,874.47 L493.99,875.29 L495.26,876.08 L496.55,876.84 L497.86,877.57 L499.19,878.26 L500.53,878.92 L501.89,879.55 L503.26,880.16 L504.64,880.72 L506.04,881.26 L507.44,881.77 L508.85,882.25 L510.26,882.69 L511.68,883.11 L513.11,883.50 L514.55,883.87 L515.99,884.21 L517.44,884.54 L518.89,884.84 L520.35,885.13 L521.81,885.40 L523.28,885.65 L524.76,885.89 L526.23,886.12 L527.72,886.34 L529.21,886.56 L530.70,886.76 L532.19,886.95 L533.69,887.14 L535.20,887.31 L536.70,887.48 L538.21,887.64 L539.72,887.80 L541.24,887.95 L542.76,888.09 L544.28,888.22 L545.80,888.35 L547.32,888.47 L548.85,888.59 L550.38,888.70 L551.91,888.80 L553.44,888.91 L554.97,889.00 L556.50,889.10 L558.04,889.19 L559.57,889.28 L561.10,889.36 L562.64,889.44 L564.17,889.52 L565.71,889.60 L567.24,889.67 L568.77,889.75 L570.30,889.82 L571.83,889.89 L573.36,889.97 L574.89,890.04 L576.42,890.11 L577.95,890.17 L579.47,890.24 L581.00,890.31 L582.52,890.38 L584.04,890.44 L585.56,890.51 L587.09,890.57 L588.61,890.64 L590.12,890.70 L591.64,890.76 L593.16,890.82 L594.68,890.88 L596.19,890.94 L597.71,891.00 L599.22,891.06 L600.74,891.12 L602.25,891.18 L603.76,891.23 L605.28,891.29 L606.79,891.34 L608.30,891.40 L609.81,891.45 L611.32,891.50 L612.83,891.56 L614.33,891.61 L615.84,891.66 L617.35,891.71 L618.85,891.76 L620.36,891.81 L621.87,891.86 L623.37,891.90 L624.88,891.95 L626.38,892.00 L627.88,892.04 L629.39,892.09 L630.89,892.13 L632.39,892.18 L633.89,892.22 L635.40,892.26 L636.90,892.31 L638.40,892.35 L639.90,892.39 L641.40,892.43 L642.90,892.47 L644.40,892.51 L645.90,892.55 L647.40,892.59 L648.90,892.63 L650.40,892.66 L651.90,892.70 L653.40,892.74 L654.90,892.77 L656.40,892.81 L657.90,892.84 L659.40,892.88 L660.89,892.91 L662.39,892.94 L663.89,892.98 L665.39,893.01 L666.89,893.04 L668.39,893.07 L669.89,893.10 L671.39,893.13 L672.89,893.16 L674.39,893.19 L675.88,893.22 L677.38,893.25 L678.88,893.28 L680.38,893.31 L681.88,893.33 L683.38,893.36 L684.88,893.39 L686.38,893.41 L687.89,893.44 L689.39,893.47 L690.89,893.49 L692.39,893.52 L693.89,893.54 L695.39,893.56 L696.90,893.59 L698.40,893.61 L699.90,893.63 L701.41,893.66 L702.91,893.68 L704.42,893.70 L705.92,893.72 L707.43,893.74 L708.94,893.76 L710.44,893.78 L711.95,893.80 L713.46,893.82 L714.97,893.84 L716.48,893.86 L717.99,893.88 L719.50,893.90 L721.01,893.92 L722.52,893.94 L724.03,893.96 L725.54,893.97 L727.06,893.99 L728.57,894.01 L730.09,894.03 L731.60,894.04 L733.12,894.06 L734.64,894.08 L736.15,894.09 L737.67,894.11 L739.19,894.12 L740.71,894.14 L742.24,894.15 L743.76,894.17 L745.28,894.18 L746.81,894.20 L748.33,894.21 L749.86,894.23 L751.38,894.24 L752.91,894.26 L754.44,894.27 L755.97,894.28 L757.50,894.30" fill="none" stroke="#30d03a" class="cv"/>
<path d="M462.07,689.91 L462.79,687.67 L463.60,686.10 L464.48,685.13 L465.41,684.71 L466.38,684.80 L467.36,685.32 L468.36,686.16 L469.34,687.23 L470.30,688.41 L471.22,689.61 L472.10,690.84 L472.95,692.08 L473.77,693.34 L474.56,694.62 L475.32,695.91 L476.06,697.21 L476.78,698.53 L477.48,699.85 L478.17,701.18 L478.84,702.53 L479.50,703.87 L480.15,705.23 L480.79,706.59 L481.44,707.95 L482.08,709.31 L482.72,710.68 L483.37,712.04 L484.02,713.41 L484.67,714.77 L485.34,716.13 L486.00,717.49 L486.67,718.85 L487.35,720.21 L488.03,721.56 L488.72,722.91 L489.41,724.26 L490.11,725.61 L490.82,726.96 L491.53,728.30 L492.25,729.64 L492.97,730.97 L493.71,732.30 L494.44,733.63 L495.19,734.95 L495.94,736.27 L496.70,737.58 L497.46,738.89 L498.24,740.20 L499.02,741.49 L499.80,742.79 L500.60,744.08 L501.40,745.36 L502.21,746.64 L503.03,747.91 L503.86,749.17 L504.70,750.43 L505.54,751.68 L506.40,752.92 L507.26,754.16 L508.13,755.38 L509.01,756.61 L509.90,757.82 L510.79,759.02 L511.70,760.22 L512.62,761.41 L513.55,762.59 L514.48,763.76 L515.43,764.92 L516.38,766.07 L517.35,767.22 L518.33,768.35 L519.31,769.47 L520.31,770.58 L521.32,771.69 L522.34,772.78 L523.37,773.86 L524.41,774.93 L525.46,775.99 L526.53,777.04 L527.60,778.08 L528.68,779.10 L529.78,780.12 L530.88,781.13 L531.99,782.12 L533.12,783.11 L534.25,784.09 L535.39,785.05 L536.55,786.01 L537.71,786.96 L538.87,787.89 L540.05,788.82 L541.24,789.74 L542.43,790.65 L543.63,791.55 L544.84,792.45 L546.06,793.33 L547.29,794.20 L548.52,795.07 L549.76,795.93 L551.00,796.78 L552.25,797.62 L553.51,798.46 L554.78,799.29 L556.05,800.10 L557.32,800.92 L558.61,801.72 L559.89,802.52 L561.19,803.31 L562.48,804.09 L563.79,804.87 L565.09,805.64 L566.41,806.40 L567.72,807.16 L569.04,807.91 L570.37,808.65 L571.69,809.39 L573.02,810.12 L574.36,810.85 L575.70,811.57 L577.04,812.29 L578.38,813.00 L579.73,813.70 L581.07,814.40 L582.42,815.09 L583.78,815.78 L585.13,816.46 L586.49,817.14 L587.85,817.81 L589.21,818.48 L590.58,819.14 L591.94,819.79 L593.31,820.43 L594.69,821.07 L596.06,821.70 L597.44,822.32 L598.82,822.94 L600.20,823.55 L601.59,824.15 L602.97,824.74 L604.36,825.32 L605.75,825.90 L607.15,826.46 L608.55,827.02 L609.95,827.57 L611.35,828.11 L612.76,828.64 L614.16,829.16 L615.57,829.67 L616.99,830.17 L618.40,830.66 L619.82,831.14 L621.24,831.61 L622.67,832.07 L624.09,832.52 L625.52,832.96 L626.96,833.38 L628.39,833.80 L629.83,834.21 L631.27,834.60 L632.71,834.99 L634.15,835.36 L635.60,835.73 L637.05,836.09 L638.50,836.44 L639.96,836.78 L641.41,837.11 L642.87,837.44 L644.33,837.76 L645.80,838.07 L647.26,838.37 L648.73,838.67 L650.20,838.97 L651.67,839.26 L653.14,839.54 L654.61,839.82 L656.09,840.09 L657.56,840.36 L659.04,840.63 L660.52,840.89 L662.00,841.15 L663.49,841.41 L664.97,841.66 L666.46,841.92 L667.94,842.17 L669.43,842.42 L670.92,842.66 L672.41,842.91 L673.90,843.16 L675.40,843.41 L676.89,843.65 L678.38,843.90 L679.88,844.15 L681.37,844.39 L682.87,844.64 L684.37,844.88 L685.87,845.13 L687.36,845.38 L688.86,845.62 L690.36,845.87 L691.86,846.11 L693.36,846.36 L694.86,846.60 L696.37,846.84 L697.87,847.08 L699.37,847.33 L700.87,847.57 L702.37,847.81 L703.87,848.05 L705.37,848.29 L706.87,848.53 L708.38,848.76 L709.88,849.00 L711.38,849.23 L712.88,849.47 L714.38,849.70 L715.88,849.93 L717.38,850.17 L718.88,850.40 L720.37,850.62 L721.87,850.85 L723.37,851.08 L724.86,851.30 L726.36,851.52 L727.85,851.75 L729.35,851.97 L730.84,852.18 L732.33,852.40 L733.82,852.62 L735.31,852.83 L736.80,853.04 L738.29,853.25 L739.78,853.46 L741.26,853.67 L742.74,853.87 L744.23,854.07 L745.71,854.27 L747.19,854.47 L748.66,854.67 L750.14,854.86 L751.61,855.05 L753.09,855.24 L754.56,855.43 L756.03,855.62 L757.49,855.80" fill="none" stroke="#2622b4" class="cv"/>
<path d="M461.5,691.4 L461.5,695.5 L460.9,698.6 L460.6,702.6 L460.3,708.5 L460,720.6" stroke="#2622b4" fill="none" stroke-width="1.2" stroke-dasharray="1.1 2.4"/>
<path d="M460.2,734.5 L462.7,792.1 L463.2,799.3 L464.3,807.6 L465.8,815.9 L466.9,823.1" stroke="#30d03a" fill="none" stroke-width="1.0" stroke-dasharray="1 2.6" opacity="0.65"/>
<text x="607.5" y="672.1" text-anchor="middle" class="tt">Bifurcation diagram of <tspan class="g">ρ</tspan></text>
<text x="566.2" y="708.5" class="tt">r=6;<tspan class="g">θ</tspan>=0.18;<tspan class="g">α</tspan><tspan dy="2.2" font-size="5">1</tspan><tspan dy="-2.2">=</tspan><tspan class="g">α</tspan><tspan dy="2.2" font-size="5">2</tspan><tspan dy="-2.2">=</tspan><tspan class="g">ρ</tspan>;<tspan class="g">β</tspan>=1;d=0.15</text>
<text x="606.5" y="911.8" text-anchor="middle" class="al">ρ</text>
<text transform="translate(441.8,786.6) rotate(-90)" text-anchor="middle" class="tt">Infected Population</text>
</svg>
<div class="cl j" style="left:7.3px;top:277.4px;width:384.3px">(a) <i class="R">R</i><span class="sx"><span class="sp"><i>θ</i></span><span class="sb">0</span></span> <span class="lt">&lt;</span> 1: Two dimensional bifurcation diagram of <i>ρ</i> and</div>
<div class="cl j" style="left:7.1px;top:294.0px;width:276.1px"><i>r</i> when <i>θ</i> <span class="eq"></span> 0.18,<span class="th"></span><i>α</i><sub>1</sub> <span class="eq"></span> <i>α</i><sub>2</sub> <span class="eq"></span> <i>ρ</i> and <i>d</i> <span class="eq"></span> 0.2</div>
<div class="cl j" style="left:399.6px;top:277.4px;width:393.4px">(b) <i class="R">R</i><span class="sx"><span class="sp"><i>θ</i></span><span class="sb">0</span></span> <span class="lt">&gt;</span> 1: Two dimensional bifurcation diagram of <i>ρ</i> and</div>
<div class="cl j" style="left:399.1px;top:294.0px;width:287.2px"><i>r</i> when <i>θ</i> <span class="eq"></span> 0.18,<span class="th"></span><i>α</i><sub>1</sub> <span class="eq"></span> <i>α</i><sub>2</sub> <span class="eq"></span> <i>ρ</i> and <i>d</i> <span class="eq"></span> 0.15.</div>
<div class="cl j" style="left:3.0px;top:605.9px;width:393.0px">(c) <i class="R">R</i><span class="sx"><span class="sp"><i>θ</i></span><span class="sb">0</span></span> <span class="lt">&lt;</span> 1: Bifurcation diagram of <i>r</i> when <i>θ</i> <span class="eq"></span> .18,<span class="th"></span><i>ρ</i> <span class="eq"></span></div>
<div class="cl j" style="left:2.3px;top:622.4px;width:192.9px">0.4,<span class="th"></span><i>α</i><sub>1</sub> <span class="eq"></span> <i>α</i><sub>2</sub> <span class="eq"></span> <i>ρ</i> and <i>d</i> <span class="eq"></span> 0.2.</div>
<div class="cl j" style="left:404.2px;top:605.9px;width:393.3px">(d) <i class="R">R</i><span class="sx"><span class="sp"><i>θ</i></span><span class="sb">0</span></span> <span class="lt">&gt;</span> 1: Bifurcation diagram of <i>r</i> when <i>θ</i> <span class="eq"></span> .18,<span class="th"></span><i>ρ</i> <span class="eq"></span></div>
<div class="cl j" style="left:403.5px;top:622.4px;width:200.0px">0.4,<span class="th"></span><i>α</i><sub>1</sub> <span class="eq"></span> <i>α</i><sub>2</sub> <span class="eq"></span> <i>ρ</i> and <i>d</i> <span class="eq"></span> 0.15.</div>
<div class="cl j" style="left:1.1px;top:933.9px;width:392.7px">(e) <i class="R">R</i><span class="sx"><span class="sp"><i>θ</i></span><span class="sb">0</span></span> <span class="lt">&lt;</span> 1: Bifurcation diagram of <i>ρ</i> when <i>r</i> <span class="eq"></span> 6,<span class="th"></span><i>θ</i> <span class="eq"></span></div>
<div class="cl j" style="left:-0.6px;top:950.4px;width:200.3px">0.18,<span class="th"></span><i>α</i><sub>1</sub> <span class="eq"></span> <i>α</i><sub>2</sub> <span class="eq"></span> <i>ρ</i> and <i>d</i> <span class="eq"></span> 0.2.</div>
<div class="cl j" style="left:401.5px;top:933.9px;width:400.0px">(f) <i class="R">R</i><span class="sx"><span class="sp"><i>θ</i></span><span class="sb">0</span></span> <span class="lt">&gt;</span> 1: Bifurcation diagram of <i>ρ</i> when <i>r</i> <span class="eq"></span> 6,<span class="th"></span><i>θ</i> <span class="eq"></span></div>
<div class="cl j" style="left:400.9px;top:950.4px;width:207.1px">0.18,<span class="th"></span><i>α</i><sub>1</sub> <span class="eq"></span> <i>α</i><sub>2</sub> <span class="eq"></span> <i>ρ</i> and <i>d</i> <span class="eq"></span> 0.15.</div>
</body></html>
